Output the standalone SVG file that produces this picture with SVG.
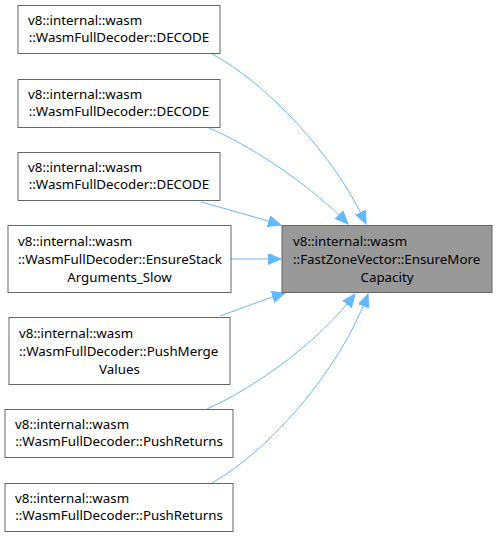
<svg xmlns="http://www.w3.org/2000/svg" width="497" height="537" viewBox="0 0 497 537">
<style>
.n rect{fill:#ffffff;stroke:#666666;stroke-width:1}
.t rect{fill:#999999;stroke:#666666;stroke-width:1}
text{font-family:"Noto Sans","Open Sans","DejaVu Sans",sans-serif;font-size:13.33px;fill:#000000}
.m{text-anchor:middle}
.e path{fill:none;stroke:#63b8ff;stroke-width:1;marker-end:url(#ah)}
</style>
<defs>
<marker id="ah" markerUnits="userSpaceOnUse" markerWidth="14" markerHeight="12" refX="13" refY="5.5" orient="auto" viewBox="0 0 14 12">
<path d="M0,0 L13,5.5 L0,11 z" fill="#63b8ff" stroke="#63b8ff" stroke-width="1"/>
</marker>
</defs>
<g class="e" id="edges">
<path d="M212,54 C265,82 335,155 366,224"/>
<path d="M207,127 C260,150 315,190 348,224"/>
<path d="M201,202 C230,210 255,217 281,225"/>
<path d="M231,259 L281,259"/>
<path d="M220,316 C240,309 262,300 285,293"/>
<path d="M207,409 C260,385 320,340 355,294"/>
<path d="M212,483 C270,450 340,370 368,294"/>
</g>
<g class="t" id="target">
<rect x="282" y="225.5" width="210" height="67"/>
<text x="293" y="245.5">v8::internal::wasm</text>
<text x="293" y="263.5">::FastZoneVector::EnsureMore</text>
<text x="387" y="281.5" class="m">Capacity</text>
</g>
<g class="n" id="n1">
<rect x="18" y="5.5" width="202" height="48"/>
<text x="28" y="25">v8::internal::wasm</text>
<text x="119" y="42" class="m">::WasmFullDecoder::DECODE</text>
</g>
<g class="n" id="n2">
<rect x="18" y="79.5" width="202" height="48"/>
<text x="28" y="99">v8::internal::wasm</text>
<text x="119" y="116" class="m">::WasmFullDecoder::DECODE</text>
</g>
<g class="n" id="n3">
<rect x="18" y="152.5" width="202" height="48"/>
<text x="28" y="172">v8::internal::wasm</text>
<text x="119" y="189" class="m">::WasmFullDecoder::DECODE</text>
</g>
<g class="n" id="n4">
<rect x="8" y="225.5" width="223" height="67"/>
<text x="18" y="245.5">v8::internal::wasm</text>
<text x="18" y="263.5">::WasmFullDecoder::EnsureStack</text>
<text x="119.5" y="281.5" class="m">Arguments_Slow</text>
</g>
<g class="n" id="n5">
<rect x="9" y="317.5" width="221" height="67"/>
<text x="19" y="337.5">v8::internal::wasm</text>
<text x="19" y="355.5">::WasmFullDecoder::PushMerge</text>
<text x="119.5" y="373.5" class="m">Values</text>
</g>
<g class="n" id="n6">
<rect x="5" y="409.5" width="228" height="48"/>
<text x="15" y="429">v8::internal::wasm</text>
<text x="119" y="446" class="m">::WasmFullDecoder::PushReturns</text>
</g>
<g class="n" id="n7">
<rect x="5" y="483.5" width="228" height="48"/>
<text x="15" y="503">v8::internal::wasm</text>
<text x="119" y="520" class="m">::WasmFullDecoder::PushReturns</text>
</g>
</svg>
